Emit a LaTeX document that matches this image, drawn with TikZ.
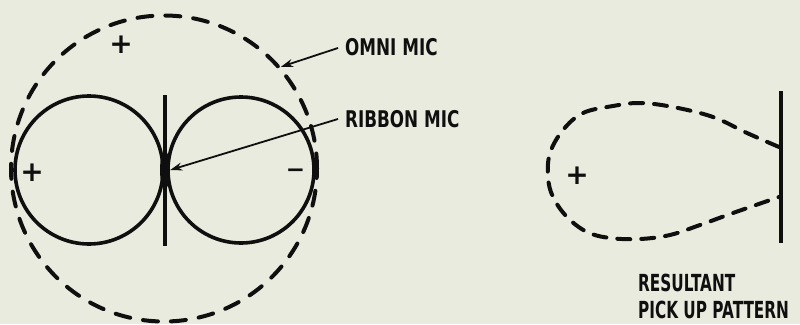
\documentclass[tikz,border=0pt]{standalone}
\usepackage{fontspec}
\newfontfamily\labelfont[FakeStretch=0.73]{DejaVu Sans}
\newfontfamily\reslabelfont[FakeStretch=0.65]{DejaVu Sans}
\newfontfamily\signfont{DejaVu Sans}
\usetikzlibrary{arrows.meta,shapes.geometric}
\definecolor{paper}{RGB}{233,235,222}
\definecolor{ink}{RGB}{15,15,15}
\tikzset{
  lobe/.style={circle, draw=ink, line width=3.6pt, inner sep=0pt, minimum size=#1},
  dashring/.style={draw=ink, line width=4pt, line cap=round, dash pattern=on 15pt off 13pt},
  lbl/.style={font=\labelfont\bfseries\fontsize{23}{23}\selectfont, text=ink, anchor=base west, inner sep=0pt},
  lbl2/.style={font=\reslabelfont\bfseries\fontsize{23.5}{27}\selectfont, text=ink, anchor=base west, inner sep=0pt},
  sign/.style={font=\signfont\bfseries\fontsize{28}{28}\selectfont, text=ink, inner sep=0pt},
  pointer/.style={draw=ink, line width=1.8pt, -{Stealth[length=12pt,width=8pt]}},
  bar/.style={draw=ink, line width=4pt}
}
\begin{document}
\begin{tikzpicture}[x=1pt,y=-1pt]
\fill[paper] (0,0) rectangle (800,324);
\useasboundingbox (0,0) rectangle (800,324);
% omni pattern
\node[circle, dashring, inner sep=0pt, minimum size=306pt] (omni) at (164,168.5) {};
% figure-eight
\node[lobe=148pt] (left) at (89,170) {};
\node[lobe=146pt] (right) at (241,170) {};
\coordinate (bartop) at (164.5,95);
\coordinate (barbot) at (164.5,246);
\draw[bar] (bartop) -- (barbot);
\node[ellipse, fill=ink, minimum width=10pt, minimum height=38pt, inner sep=0pt] (ribbon) at (165,170) {};
% signs
\node[sign] (p1) at (121,45) {+};
\node[sign] (p2) at (32,173) {+};
\node[sign, font=\signfont\bfseries\fontsize{23}{23}\selectfont] (m1) at (295.5,173) {−};
% labels
\node[lbl] (omnilbl) at (345,55) {OMNI MIC};
\node[lbl] (ribbonlbl) at (345,127) {RIBBON MIC};
\coordinate (o1) at (338,48);
\coordinate (r1) at (338,119);
\draw[pointer] (o1) -- (omni.41);
\draw[pointer] (r1) -- (ribbon.east);
% resultant
\coordinate (rtop) at (781,91);
\coordinate (rbot) at (781,243);
\draw[bar] (rtop) -- (rbot);
\draw[dashring, dash pattern=on 13pt off 11pt] plot[smooth, tension=0.6] coordinates {
 (779,147) (747,133) (713,117) (673,107) (640,103) (613,106) (583,113) (563,130)
 (550,153) (548,177) (553,197) (567,217) (587,232) (610,238) (640,239) (670,235)
 (700,225) (733,213) (779,197)};
\node[sign] (p3) at (577,176) {+};
\node[lbl2] (reslbl) at (638,291) {RESULTANT};
\node[lbl2] (reslbl2) at (638,318) {PICK UP PATTERN};
\end{tikzpicture}
\end{document}
